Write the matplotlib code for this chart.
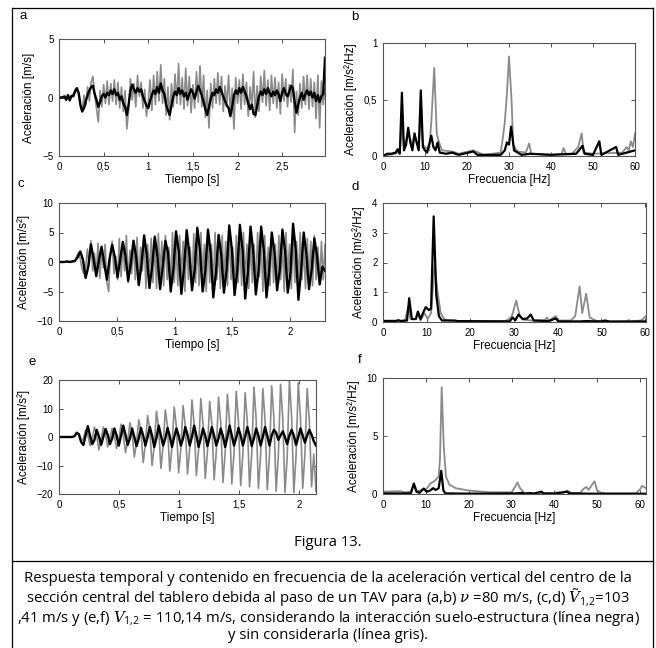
import numpy as np
import matplotlib
matplotlib.use('Agg')
import matplotlib.pyplot as plt
from matplotlib.lines import Line2D

plt.rcParams['font.family'] = ['Liberation Sans', 'DejaVu Sans']
plt.rcParams['mathtext.fontset'] = 'custom'
plt.rcParams['mathtext.rm'] = 'Open Sans'
plt.rcParams['mathtext.it'] = 'DejaVu Serif:italic'

GRIS = '#8a8a8a'
NEGRO = '#000000'

# ---- (a) respuesta temporal, v = 80 m/s (paso 0,02 s) ----
dt_a = 0.02
a_gris = [0, 0, 0.05, -0.05, 0.1, -0.1, 0.1, 0, 0.3, 0.7,
          0.8, 0.3, -0.8, -1.2, 0.2, -0.7, 0.9, -0.3, 1.3, 1.8,
          0.2, -0.9, -2.1, 0.6, -0.8, 1.1, -0.5, 1.4, -0.6, 1.2,
          -0.3, 1.5, -0.6, 1.3, -0.9, 0.9, -1.2, 0.6, -2.7, -1.0,
          1.6, -0.2, 1.2, -0.8, 1.9, 0.1, 1.3, -0.9, 0.7, -1.6,
          -0.4, 1.5, -1.1, 1.9, -0.6, 2.2, -0.3, 2.8, -0.5, 1.6,
          -1.5, 0.9, -1.9, 1.2, -0.8, 2.0, -0.5, 2.9, -0.6, 1.7,
          -1.0, 2.5, -0.7, 1.8, -1.3, 1.1, -0.9, 2.2, -0.4, 2.7,
          -0.8, 1.9, -1.7, 0.6, -2.6, 1.2, -0.9, 1.6, -0.5, 2.1,
          -0.6, 1.8, -1.2, 1.0, -0.7, 1.9, -1.4, 0.8, -2.7, 1.7,
          -0.5, 1.5, -1.0, 2.0, -0.6, 1.3, -1.6, 0.9, -0.8, 2.2,
          -1.7, 1.0, -1.2, 1.8, -0.4, 2.3, -0.7, 1.5, -1.1, 1.9,
          -0.5, 1.7, -0.9, 1.3, -1.4, 2.0, -0.3, 1.6, -0.8, 1.1,
          -0.4, 2.4, -3.0, 0.5, -1.5, 1.2, -0.9, 1.8, -0.6, 1.9,
          -1.0, 1.6, -0.8, 1.3, -1.8, 1.9, -2.6, 1.4, -0.6, 0.8]
a_negro = [0, 0, 0, 0.1, -0.2, 0.2, -0.25, 0.15, 0.1, 0.5,
           0.8, 0.4, -0.6, -1.2, -0.9, -0.3, 0.2, 0.6, 0.9, 1.0,
           0.3, -0.2, -0.8, -0.4, 0.1, 0.3, 0.0, 0.4, 0.2, 0.6,
           0.3, 0.7, 0.2, 0.4, -0.2, 0.1, -0.5, -0.8, -1.5, -0.6,
           0.6, 1.1, 0.7, 0.4, 0.8, 0.5, 0.7, 0.1, -0.3, -0.7,
           -0.9, -0.3, 0.2, 0.6, 0.3, 0.9, 0.4, 1.2, 0.6, 0.3,
           -0.6, -1.1, -1.5, -0.7, 0.1, 0.5, 0.2, 0.8, 0.3, 0.6,
           0.1, 0.4, -0.2, 0.3, 0.7, 0.4, -0.1, 0.5, 1.0, 0.6,
           0.2, -0.4, -1.0, -1.5, -0.8, -0.1, 0.4, 0.2, 0.7, 0.4,
           0.9, 0.5, 0.1, -0.3, -0.7, -0.9, -1.6, -0.8, 0.2, 0.6,
           0.3, 0.8, 0.4, 0.9, 0.5, 0.1, -0.5, -1.0, -0.6, -1.4,
           -1.5, -0.7, 0.1, 0.5, 0.2, 0.7, 0.3, 0.8, 0.4, 0.1,
           0.5, 0.2, 0.6, 0.3, -0.3, 0.4, 0.8, 0.3, 0.1, 0.5,
           1.0, 0.8, -0.4, -1.3, -0.6, 0.0, 0.4, -0.2, 0.3, 0.6,
           0.2, 0.5, 0.0, 0.4, -0.3, 0.2, -0.4, 0.1, 0.3, 3.4]

# ---- (b) contenido en frecuencia, v = 80 m/s ----
b_f_negro = [0, 1, 2, 3, 3.5, 4, 4.5, 5, 5.5, 6, 6.5, 7, 7.5, 8, 8.5, 9, 9.5, 10, 10.5,
             11.5, 12, 12.5, 13, 13.5, 15, 16.5, 18, 21.5, 22.5, 28, 29, 29.5, 30, 30.5,
             31.2, 33, 35, 40, 46, 47.5, 48, 50, 51.5, 52, 55.5, 56, 60]
b_a_negro = [0, 0.02, 0.02, 0.03, 0.06, 0.02, 0.56, 0.05, 0.1, 0.25, 0.12, 0.05, 0.2, 0.12,
             0.05, 0.58, 0.08, 0.05, 0.03, 0.18, 0.08, 0.05, 0.12, 0.03, 0.02, 0.03, 0.01,
             0.04, 0.01, 0.01, 0.05, 0.12, 0.1, 0.26, 0.05, 0.01, 0.02, 0.01, 0.02, 0.09,
             0.02, 0.01, 0.13, 0.01, 0.08, 0.01, 0.05]
b_f_gris = [0, 3, 4, 4.5, 5, 6, 7, 7.5, 8.5, 9, 9.5, 10, 11, 11.5, 12.2, 12.8, 13.2, 14,
            16.5, 18, 21.5, 24, 28, 28.5, 29, 29.5, 30, 30.6, 31, 32, 34, 34.8, 35.3, 40,
            42.5, 43, 43.5, 45, 46, 46.5, 47.3, 47.8, 50, 57, 58, 58.5, 59, 59.5, 60]
b_a_gris = [0, 0.02, 0.04, 0.3, 0.08, 0.2, 0.1, 0.18, 0.08, 0.4, 0.1, 0.08, 0.05, 0.3,
            0.78, 0.2, 0.14, 0.05, 0.04, 0.02, 0.05, 0.01, 0.03, 0.15, 0.3, 0.55, 0.88,
            0.5, 0.1, 0.04, 0.03, 0.11, 0.02, 0.01, 0.02, 0.07, 0.02, 0.02, 0.06, 0.08,
            0.2, 0.03, 0.02, 0.03, 0.08, 0.05, 0.13, 0.08, 0.2]

# ---- (c) respuesta temporal, V = 103,41 m/s ----
dt_c_negro = 0.023
c_negro = [0, 0, 0, 0.1, 0, 0.1, 0.2,
           0.8, 1.8, 0.4, -2.7, -0.8, 3.0, 0.6, -2.4, 0.3, 2.6, -0.2, -3.0, 0.5,
           2.9, 0.8, -2.6, 0.4, 3.4, 1.0, -3.2, -0.3, 3.6, 0.9, -3.9, -0.5,
           4.5, 1.2, -4.4, -0.8, 4.3, 1.0, -4.6, -0.6, 3.6, 1.5, -5.0, -1.2,
           5.2, 1.8, -5.4, -1.0, 5.4, 1.4, -4.8, -1.3, 5.8, 2.0, -5.0, -1.5,
           5.5, 1.6, -6.0, -1.8, 4.6, 1.2, -5.2, -1.4, 6.2, 2.1, -5.6, -1.6,
           6.3, 2.0, -6.2, -1.7, 6.0, 1.8, -5.5, -1.5, 6.0, 1.9, -6.0, -1.4,
           5.0, 1.6, -4.8, -1.3, 5.5, 1.8, -5.2, -1.9, 6.5, 2.0, -6.4, -1.5,
           5.0, 1.3, -4.6, -1.2, 4.0, 1.0, -3.8, -0.8, -1.5]
dt_c_gris = 2.3 / 150
c_gris = [0, 0, 0, 0, 0, 0, 0, 0, 0, 0.1,
          1.0, 1.6, 0.5, -1.2, -2.0, -1.0, 2.2, -0.5, 3.6, -1.5,
          1.5, -2.3, 3.2, -2.8, 2.0, -1.0, 3.0, -3.5, -5.0, 1.5,
          3.5, -2.0, 1.0, -3.0, 4.0, -2.5, 3.0, -1.5, 4.5, -3.5,
          2.0, -2.0, 3.5, -3.0, 4.2, -4.0, 2.5, -1.5, 4.5, -4.5,
          3.0, -2.5, 4.0, -3.5, 3.5, -4.5, 4.8, -2.0, 3.5, -4.0,
          4.5, -3.0, 2.5, -4.5, 5.0, -3.5, 3.0, -4.0, 4.5, -2.5,
          3.5, -5.0, 4.5, -3.0, 2.5, -4.5, 4.8, -3.5, 3.5, -4.0,
          5.0, -2.5, 3.0, -5.0, 4.0, -3.5, 3.0, -4.5, 5.0, -3.0,
          2.5, -4.5, 4.5, -3.5, 3.5, -4.0, 4.8, -3.0, 2.5, -5.0,
          4.5, -3.5, 3.5, -4.0, 5.0, -3.0, 3.0, -4.5, 4.0, -3.5,
          3.0, -4.5, 5.0, -2.5, 3.5, -5.0, 4.5, -3.0, 2.5, -4.0,
          4.8, -3.5, 3.0, -4.5, 4.5, -3.0, 3.5, -5.0, 5.0, -2.5,
          3.0, -4.5, 4.5, -3.5, 3.5, -4.0, 5.0, -3.0, 2.5, -4.5,
          4.0, -3.5, 3.5, -4.0, 4.5, -3.0, 2.5, -3.5, 3.5, -3.0, 3.0]

# ---- (d) contenido en frecuencia, V = 103,41 m/s ----
d_f_negro = [0, 3, 3.5, 4, 5.5, 6, 6.6, 7.5, 8, 8.6, 9.3, 9.8, 10.5, 11, 11.6, 12.2, 12.8,
             13.5, 16.5, 17, 29, 29.7, 30.3, 31, 32, 33, 33.8, 34.5, 38, 39.5, 40.2, 45,
             46.5, 50, 50.8, 52, 60.2]
d_a_negro = [0.03, 0.03, 0.06, 0.03, 0.05, 0.8, 0.1, 0.1, 0.35, 0.1, 0.35, 0.5, 0.4, 0.45,
             3.55, 0.9, 0.2, 0.05, 0.05, 0.03, 0.02, 0.15, 0.06, 0.25, 0.1, 0.12, 0.25,
             0.05, 0.03, 0.12, 0.02, 0.02, 0.03, 0.02, 0.05, 0.01, 0.02]
d_f_gris = [0, 5, 5.8, 6.3, 7.5, 8, 8.6, 9.5, 10.2, 11, 11.8, 12.5, 13.2, 14, 15, 17, 28,
            29, 29.5, 30.5, 31.3, 32, 34, 37, 37.5, 38, 39.5, 40.2, 43, 44, 45, 45.6, 46.5,
            47.3, 48, 49, 56, 56.2, 56.5, 59, 59.5, 60.2]
d_a_gris = [0.05, 0.05, 0.5, 0.1, 0.1, 0.25, 0.05, 0.3, 0.1, 0.3, 1.9, 1.0, 0.3, 0.1, 0.05,
            0.03, 0.03, 0.12, 0.2, 0.72, 0.2, 0.08, 0.05, 0.06, 0.15, 0.05, 0.2, 0.05, 0.05,
            0.2, 1.2, 0.3, 0.95, 0.15, 0.1, 0.03, 0.03, 0.07, 0.02, 0.05, 0.1, 0.2]

# ---- (e) respuesta temporal, V = 110,14 m/s ----
dt_e = 2.14 / 116
e_gris = [0, 0, 0, 0, 0, 0, 0, 0.2,
          1.5, 0.5, -1.5, -0.5, 2.5, 0.8, -3.0, -0.5, 3.5, 0.5, -4.5, -1.0,
          3.5, 1.0, -3.5, -0.5, 3.0, 0.5, -4.0, -1.0, 4.5, 1.0, -5.5, -1.5,
          5.0, 1.5, -7.0, -2.0, 6.0, 2.0, -9.0, -2.5, 7.5, 2.5, -10.0, -3.0,
          9.0, 3.0, -11.0, -3.0, 9.5, 3.5, -12.0, -3.5, 10.5, 3.5, -12.5, -4.0,
          11.0, 4.0, -13.0, -4.0, 13.0, 4.5, -13.5, -4.5, 13.5, 4.5, -14.5, -5.0,
          12.5, 4.5, -15.0, -5.0, 14.0, 5.0, -16.0, -5.5, 15.0, 5.0, -16.5, -5.5,
          16.0, 5.5, -17.0, -6.0, 15.5, 5.5, -17.5, -6.0, 17.5, 6.0, -18.0, -6.5,
          17.0, 6.0, -18.5, -6.5, 18.0, 6.5, -19.0, -6.5, 18.5, 6.5, -19.5, -7.0,
          20.0, 7.0, -19.5, -6.5, 19.0, 6.5, -18.0, -6.0, 17.0, 5.5, -17.5, -6.0, -19.0]
e_negro = [0, 0, 0, 0, 0, 0, 0, 0.3,
           1.5, 1.0, -1.8, -2.8, 0.5, 3.8, 0.5, -2.5, -1.0, 2.5, 0.3, -2.8,
           0.0, 2.8, 0.8, -2.5, -0.5, 3.0, 0.5, -3.0, 0.5, 4.0, 0.8, -2.8,
           -0.5, 3.0, 0.0, -3.2, -0.5, 3.2, 0.5, -3.0, 0.0, 3.5, 0.5, -3.5,
           -0.3, 4.0, 0.5, -3.0, -0.5, 3.2, 0.3, -3.5, 0.0, 3.0, 0.5, -3.0,
           -0.5, 3.5, 0.8, -3.0, 0.0, 4.0, 0.5, -3.5, -0.5, 3.0, 0.5, -3.2,
           0.0, 3.5, 0.5, -3.0, -0.5, 3.0, 0.3, -3.5, 0.0, 4.0, 0.5, -3.0,
           -0.3, 3.2, 0.5, -3.0, 0.0, 3.5, 0.5, -3.2, -0.5, 3.0, 0.5, -3.0,
           0.0, 3.5, 0.5, -3.0, 0.5, 2.5, 1.5, -1.0, 0.5, 2.0, 0.0, -2.5,
           0.5, 2.5, 0.5, -2.8, 0.0, 3.0, 0.5, -2.0, 0.5, 2.5, 0.8, -1.5, -3.0]

# ---- (f) contenido en frecuencia, V = 110,14 m/s ----
f_f_gris = [0, 4, 5, 6.5, 7.2, 7.8, 8.5, 9.5, 10, 10.5, 11, 12, 13, 13.3, 13.7, 14.2, 14.7,
            15.5, 17, 20, 25, 30, 30.8, 31.4, 32, 33, 36, 40, 41, 42, 43, 44, 46, 47, 47.5,
            48, 48.8, 49.4, 50, 51, 52, 59, 60, 60.5, 61.4]
f_a_gris = [0.2, 0.25, 0.15, 0.2, 0.9, 0.3, 0.25, 0.5, 0.4, 0.6, 0.9, 1.1, 1.5, 3.0, 9.2,
            4.0, 1.5, 0.8, 0.5, 0.3, 0.15, 0.15, 0.6, 1.0, 0.5, 0.1, 0.05, 0.1, 0.15, 0.1,
            0.3, 0.1, 0.1, 0.5, 0.6, 0.35, 0.8, 1.1, 0.3, 0.1, 0.05, 0.05, 0.4, 0.7, 0.5]
f_f_negro = [0, 6.5, 7.2, 7.8, 8.5, 9.5, 10.2, 11, 11.7, 12.3, 13, 13.6, 14.1, 14.6, 20, 31,
             32.5, 33, 34.5, 35, 37, 37.5, 40, 43, 43.5, 50, 61.4]
f_a_negro = [0.05, 0.05, 0.9, 0.2, 0.1, 0.45, 0.2, 0.3, 0.5, 0.35, 0.5, 2.0, 0.3, 0.05,
             0.03, 0.05, 0.1, 0.02, 0.08, 0.02, 0.2, 0.05, 0.03, 0.2, 0.05, 0.02, 0.02]

W, H = 656, 648
fig = plt.figure(figsize=(W / 100, H / 100), dpi=100)


def caja(x0, x1, y0, y1):
    # posicion en pixeles -> fraccion de figura
    return [x0 / W, 1 - y1 / H, (x1 - x0) / W, (y1 - y0) / H]


def estilo(ax, xlim, ylim, xt, xtl, yt, ytl, xlab, ylab):
    ax.set_xlim(*xlim)
    ax.set_ylim(*ylim)
    ax.set_xticks(xt)
    ax.set_xticklabels(xtl)
    ax.set_yticks(yt)
    ax.set_yticklabels(ytl)
    ax.tick_params(direction='in', top=True, right=True, length=3, width=0.6,
                   labelsize=7, pad=4, colors='#333333', labelcolor='black')
    for s in ax.spines.values():
        s.set_color('#555555')
        s.set_linewidth(0.8)
    ax.set_xlabel(xlab, fontsize=8.5, labelpad=2)
    ax.set_ylabel(ylab, fontsize=8.5, labelpad=5)


def serie(vals, dt):
    return np.arange(len(vals)) * dt, np.array(vals)


# (a)
ax = fig.add_axes(caja(59, 325, 39, 156))
t, y = serie(a_gris, dt_a)
ax.plot(t, y, color=GRIS, lw=1.2)
t, y = serie(a_negro, dt_a)
ax.plot(t, y, color=NEGRO, lw=1.7)
estilo(ax, (0, 2.98), (-5, 5), [0, 0.5, 1, 1.5, 2, 2.5], ['0', '0,5', '1', '1,5', '2', '2,5'],
       [-5, 0, 5], ['\u22125', '0', '5'], 'Tiempo [s]', 'Aceleración [m/s]')

# (b)
ax = fig.add_axes(caja(383, 635, 43, 156))
ax.plot(b_f_gris, b_a_gris, color=GRIS, lw=1.3)
ax.plot(b_f_negro, b_a_negro, color=NEGRO, lw=1.6)
estilo(ax, (0, 60), (0, 1), range(0, 61, 10), [str(v) for v in range(0, 61, 10)],
       [0, 0.5, 1], ['0', '0,5', '1'], 'Frecuencia [Hz]', 'Aceleración [m/s²/Hz]')

# (c)
ax = fig.add_axes(caja(59, 325, 203, 321))
t, y = serie(c_gris, dt_c_gris)
ax.plot(t, y, color=GRIS, lw=1.2)
t, y = serie(c_negro, dt_c_negro)
ax.plot(t, y, color=NEGRO, lw=1.7)
estilo(ax, (0, 2.3), (-10, 10), [0, 0.5, 1, 1.5, 2], ['0', '0,5', '1', '1,5', '2'],
       [-10, -5, 0, 5, 10], ['\u221210', '\u22125', '0', '5', '10'],
       'Tiempo [s]', 'Aceleración [m/s²]')

# (d)
ax = fig.add_axes(caja(383, 646, 203, 322))
ax.plot(d_f_gris, d_a_gris, color=GRIS, lw=1.3)
ax.plot(d_f_negro, d_a_negro, color=NEGRO, lw=1.6)
estilo(ax, (0, 60.2), (0, 4), range(0, 61, 10), [str(v) for v in range(0, 61, 10)],
       [0, 1, 2, 3, 4], ['0', '1', '2', '3', '4'], 'Frecuencia [Hz]', 'Aceleración [m/s²/Hz]')

# (e)
ax = fig.add_axes(caja(59, 316, 380, 494))
t, y = serie(e_gris, dt_e)
ax.plot(t, y, color=GRIS, lw=1.2)
t, y = serie(e_negro, dt_e)
ax.plot(t, y, color=NEGRO, lw=1.7)
estilo(ax, (0, 2.14), (-20, 20), [0, 0.5, 1, 1.5, 2], ['0', '0,5', '1', '1,5', '2'],
       [-20, -10, 0, 10, 20], ['\u221220', '\u221210', '0', '10', '20'],
       'Tiempo [s]', 'Aceleración [m/s²]')

# (f)
ax = fig.add_axes(caja(383, 646, 378, 494))
ax.plot(f_f_gris, f_a_gris, color=GRIS, lw=1.3)
ax.plot(f_f_negro, f_a_negro, color=NEGRO, lw=1.6)
estilo(ax, (0, 61.4), (0, 10), range(0, 61, 10), [str(v) for v in range(0, 61, 10)],
       [0, 5, 10], ['0', '5', '10'], 'Frecuencia [Hz]', 'Aceleración [m/s²/Hz]')

# letras de los paneles
for letra, x, y in [('a', 23, 16), ('b', 355, 17), ('c', 21, 184), ('d', 355, 187),
                    ('e', 32, 362), ('f', 360, 360)]:
    fig.text(x / W, 1 - y / H, letra, fontsize=9.5, ha='center', va='center')

# marco exterior
for (x0, y0, x1, y1) in [(12, 8, 12, 648), (12, 8, 653, 8), (653, 8, 653, 648),
                         (12, 561, 653, 561)]:
    fig.add_artist(Line2D([x0 / W, x1 / W], [1 - y0 / H, 1 - y1 / H],
                          transform=fig.transFigure, color='black', lw=0.9))

cap = {'fontsize': 10.7, 'family': ['Open Sans', 'DejaVu Sans'], 'ha': 'center'}
fig.text(328 / W, 1 - 543 / H, 'Figura 13.', va='center', **cap)
lineas = ['Respuesta temporal y contenido en frecuencia de la aceleración vertical del centro de la',
          r'sección central del tablero debida al paso de un TAV para (a,b) $\nu$ =80 m/s, (c,d) $\tilde{V}_{1{,}2}$=103',
          r',41 m/s y (e,f) $V_{1{,}2}$ = 110,14 m/s, considerando la interacción suelo-estructura (línea negra)',
          'y sin considerarla (línea gris).']
fig.text(328 / W, 1 - 607 / H, '\n'.join(lineas), va='center', ma='center',
         linespacing=0.98, **cap)

fig.savefig('out.png', dpi=100)
